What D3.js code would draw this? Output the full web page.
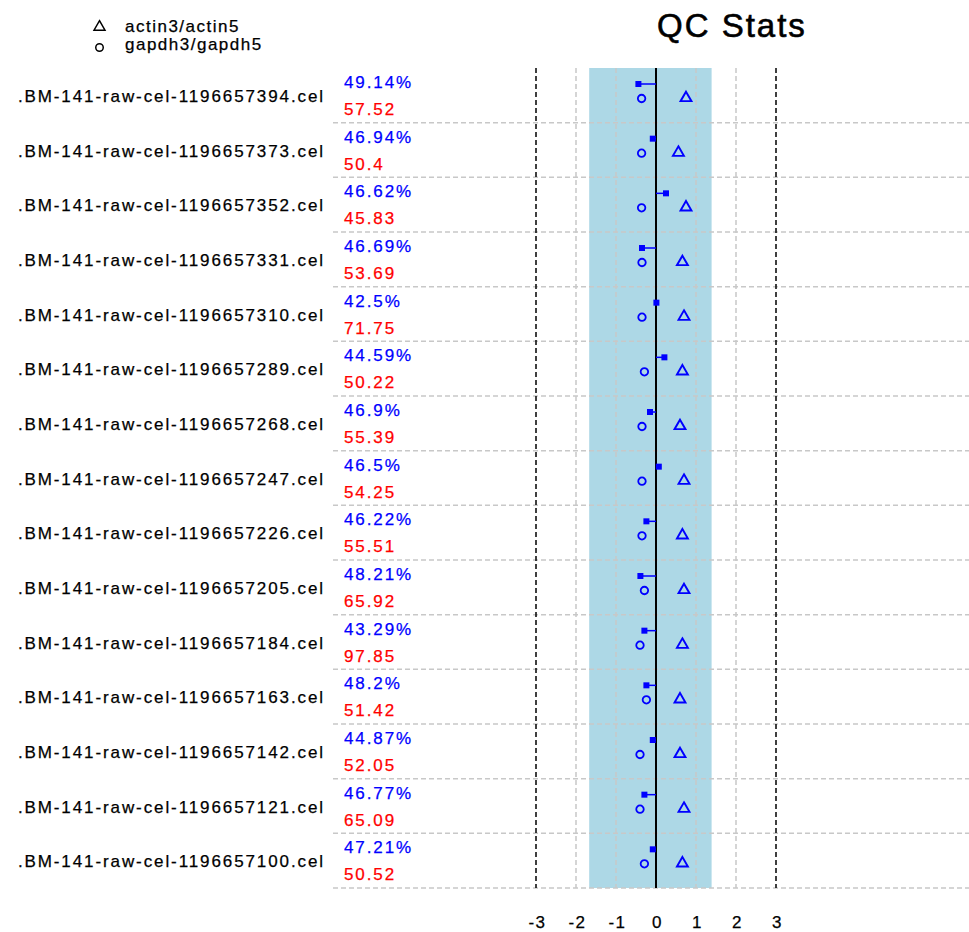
<!DOCTYPE html>
<html>
<head>
<meta charset="utf-8">
<script src="https://cdn.jsdelivr.net/npm/d3@7"></script>
<style>
    body { margin: 0; background: #fff; }
    svg { display: block; }
    text { font-family: "Liberation Sans", Arial, sans-serif; }
</style>
</head>
<body>
<svg width="969" height="932"></svg>
<script>
// sample names (top to bottom) as shown in the plot
var samples = [
    '.BM-141-raw-cel-1196657394.cel', '.BM-141-raw-cel-1196657373.cel', '.BM-141-raw-cel-1196657352.cel',
    '.BM-141-raw-cel-1196657331.cel', '.BM-141-raw-cel-1196657310.cel', '.BM-141-raw-cel-1196657289.cel',
    '.BM-141-raw-cel-1196657268.cel', '.BM-141-raw-cel-1196657247.cel', '.BM-141-raw-cel-1196657226.cel',
    '.BM-141-raw-cel-1196657205.cel', '.BM-141-raw-cel-1196657184.cel', '.BM-141-raw-cel-1196657163.cel',
    '.BM-141-raw-cel-1196657142.cel', '.BM-141-raw-cel-1196657121.cel', '.BM-141-raw-cel-1196657100.cel'
];
var percentPresent = ['49.14%', '46.94%', '46.62%', '46.69%', '42.5%', '44.59%', '46.9%', '46.5%',
    '46.22%', '48.21%', '43.29%', '48.2%', '44.87%', '46.77%', '47.21%'];
var avgBackground = ['57.52', '50.4', '45.83', '53.69', '71.75', '50.22', '55.39', '54.25',
    '55.51', '65.92', '97.85', '51.42', '52.05', '65.09', '50.52'];
// log2 scale factors, actin3/actin5 and gapdh3/gapdh5 ratios
var scaleFactors = [-0.44, -0.08, 0.25, -0.35, 0.01, 0.21, -0.15, 0.07, -0.24, -0.39, -0.29, -0.24, -0.08, -0.29, -0.08];
var actinRatios = [0.75, 0.56, 0.75, 0.66, 0.70, 0.66, 0.60, 0.70, 0.66, 0.70, 0.66, 0.60, 0.60, 0.70, 0.66];
var gapdhRatios = [-0.36, -0.36, -0.36, -0.35, -0.35, -0.29, -0.35, -0.35, -0.35, -0.29, -0.40, -0.24, -0.40, -0.40, -0.29];
var sfRange = [-1.67, 1.39];
var xTicks = [-3, -2, -1, 0, 1, 2, 3];
var legendLabels = ['actin3/actin5', 'gapdh3/gapdh5'];

var BLUE = '#0000ff', RED = '#ff0000', GREY = '#c8c8c8';

var svg = d3.select('svg');

var plotTop = 68, plotBottom = 888, gridLeft = 333, gridRight = 969;

var x = d3.scaleLinear().domain([-3, 3]).range([536, 776]);
var y = d3.scaleBand().domain(samples).range([plotTop, plotBottom]);
var bw = y.bandwidth();

// blue scale-factor band
svg.append('rect')
    .attr('x', x(sfRange[0]))
    .attr('y', plotTop)
    .attr('width', x(sfRange[1]) - x(sfRange[0]))
    .attr('height', plotBottom - plotTop)
    .attr('fill', '#add8e6');

// horizontal row separators
svg.append('g').selectAll('line')
    .data(samples)
    .enter().append('line')
    .attr('x1', gridLeft).attr('x2', gridRight)
    .attr('y1', function(d) { return y(d) + bw; })
    .attr('y2', function(d) { return y(d) + bw; })
    .attr('stroke', GREY).attr('stroke-width', 1.5)
    .attr('stroke-dasharray', '5,3');

// vertical grid
svg.append('g').selectAll('line')
    .data(xTicks.filter(function(t) { return t !== 0; }))
    .enter().append('line')
    .attr('x1', function(d) { return x(d); })
    .attr('x2', function(d) { return x(d); })
    .attr('y1', plotTop).attr('y2', plotBottom)
    .attr('stroke', function(d) { return Math.abs(d) === 3 ? '#000' : GREY; })
    .attr('stroke-width', 1.5)
    .attr('stroke-dasharray', '5,3');

svg.append('line')
    .attr('x1', x(0)).attr('x2', x(0))
    .attr('y1', plotTop).attr('y2', plotBottom)
    .attr('stroke', '#000').attr('stroke-width', 2);

// axis labels only
var axis = svg.append('g')
    .attr('transform', 'translate(1,911)')
    .call(d3.axisBottom(x).tickValues(xTicks).tickSize(0).tickPadding(0)
        .tickFormat(function(d) { return String(d); }));
axis.select('.domain').remove();
axis.selectAll('text')
    .attr('font-family', '"Liberation Sans", Arial, sans-serif')
    .attr('font-size', 17)
    .attr('fill', '#000')
    .attr('dy', 17)
    .attr('letter-spacing', 1.5)
    .attr('stroke', '#000').attr('stroke-width', 0.25);

var rows = svg.append('g').selectAll('g')
    .data(samples)
    .enter().append('g')
    .attr('transform', function(d) { return 'translate(0,' + y(d) + ')'; });

rows.append('text')
    .attr('x', 325).attr('y', 34)
    .attr('text-anchor', 'end')
    .attr('font-size', 17).attr('letter-spacing', 1.9)
    .attr('stroke', '#000').attr('stroke-width', 0.25)
    .text(function(d) { return d; });

rows.append('text')
    .attr('x', 344).attr('y', 20)
    .attr('font-size', 17).attr('letter-spacing', 1.9)
    .attr('fill', BLUE).attr('stroke', BLUE).attr('stroke-width', 0.25)
    .text(function(d, i) { return percentPresent[i]; });

rows.append('text')
    .attr('x', 344).attr('y', 47)
    .attr('font-size', 17).attr('letter-spacing', 1.9)
    .attr('fill', RED).attr('stroke', RED).attr('stroke-width', 0.25)
    .text(function(d, i) { return avgBackground[i]; });

// scale factor stalk
rows.append('line')
    .attr('x1', x(0))
    .attr('x2', function(d, i) { return x(scaleFactors[i]); })
    .attr('y1', 16).attr('y2', 16)
    .attr('stroke', BLUE).attr('stroke-width', 1.5);

rows.append('rect')
    .attr('x', function(d, i) { return x(scaleFactors[i]) - 3; })
    .attr('y', 13)
    .attr('width', 6).attr('height', 6)
    .attr('fill', BLUE);

var tri = d3.symbol(d3.symbolTriangle, 52);
var circ = d3.symbol(d3.symbolCircle, 44);

rows.append('path')
    .attr('d', tri)
    .attr('transform', function(d, i) { return 'translate(' + x(actinRatios[i]) + ',30)'; })
    .attr('fill', 'none').attr('stroke', BLUE).attr('stroke-width', 1.9);

rows.append('path')
    .attr('d', circ)
    .attr('transform', function(d, i) { return 'translate(' + x(gapdhRatios[i]) + ',30.5)'; })
    .attr('fill', 'none').attr('stroke', BLUE).attr('stroke-width', 1.8);

// legend
var legend = svg.append('g');
legend.append('path').attr('d', tri).attr('transform', 'translate(99.5,27)')
    .attr('fill', 'none').attr('stroke', '#000').attr('stroke-width', 1.5);
legend.append('path').attr('d', circ).attr('transform', 'translate(99.5,47.5)')
    .attr('fill', 'none').attr('stroke', '#000').attr('stroke-width', 1.5);
legend.selectAll('text')
    .data(legendLabels)
    .enter().append('text')
    .attr('x', 125)
    .attr('y', function(d, i) { return 32 + i * 18; })
    .attr('font-size', 17).attr('letter-spacing', 1.5)
    .attr('stroke', '#000').attr('stroke-width', 0.25)
    .text(function(d) { return d; });

svg.append('text')
    .attr('x', 657).attr('y', 37)
    .attr('font-size', 33).attr('letter-spacing', 2)
    .attr('stroke', '#000').attr('stroke-width', 0.6)
    .text('QC Stats');
</script>
</body>
</html>
